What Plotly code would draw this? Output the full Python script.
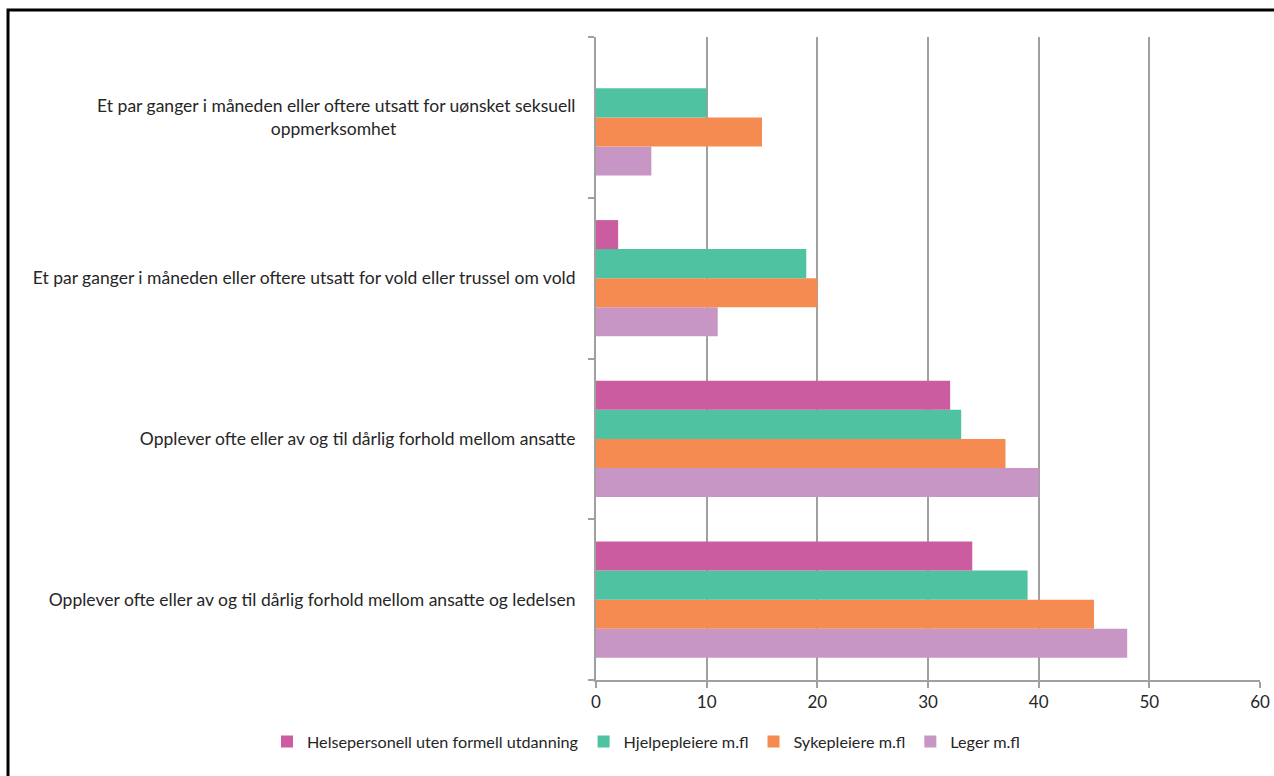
import plotly.graph_objects as go

categories = [
    "Opplever ofte eller av og til dårlig forhold mellom ansatte og ledelsen",
    "Opplever ofte eller av og til dårlig forhold mellom ansatte",
    "Et par ganger i måneden eller oftere utsatt for vold eller trussel om vold",
    "Et par ganger i måneden eller oftere utsatt for uønsket seksuell<br>oppmerksomhet" + "\u00a0" * 40,
]
series_names = ["Helsepersonell uten formell utdanning", "Hjelpepleiere m.fl", "Sykepleiere m.fl", "Leger m.fl"]
helse = [34, 32, 2, None]
hjelpe = [39, 33, 19, 10]
syke = [45, 37, 20, 15]
leger = [48, 40, 11, 5]
colors = ["#cc5ca0", "#4fc3a1", "#f58b50", "#c896c4"]
values = [helse, hjelpe, syke, leger]

fig = go.Figure()
# add in reverse so first series sits on top within each group
for name, vals, col in reversed(list(zip(series_names, values, colors))):
    fig.add_trace(go.Bar(y=categories, x=vals, name=name, orientation="h",
                         marker=dict(color=col, line=dict(width=0))))

fig.update_layout(
    width=1274, height=776,
    margin=dict(l=596, r=14, t=37, b=96),
    paper_bgcolor="white", plot_bgcolor="white",
    barmode="group", bargap=0.278, bargroupgap=0,
    font=dict(family="Lato", size=16, color="#262626"),
    xaxis=dict(range=[0, 60], dtick=10, showgrid=True, gridcolor="#a0a0a0", gridwidth=2,
               showline=True, linecolor="#a0a0a0", linewidth=2, ticks="outside",
               tickcolor="#a0a0a0", ticklen=6, tickwidth=2, zeroline=False, automargin=False,
               tickfont=dict(size=17, color="#262626")),
    yaxis=dict(type="category", showline=True, linecolor="#a0a0a0", linewidth=2,
               ticks="outside", tickson="boundaries", tickcolor="#a0a0a0", ticklen=6, tickwidth=2,
               showgrid=False, ticklabelstandoff=15, automargin=False,
               tickfont=dict(size=17.5, color="#262626")),
    legend=dict(orientation="h", traceorder="reversed", x=-0.4955, xanchor="left",
                y=-0.0964, yanchor="middle", font=dict(size=16.2, color="#262626")),
    shapes=[dict(type="rect", xref="paper", yref="paper", x0=-0.8855, x1=1.2,
                 y0=-0.3, y1=1.042, line=dict(color="black", width=3), layer="above")],
)

fig.write_html("out.html")
